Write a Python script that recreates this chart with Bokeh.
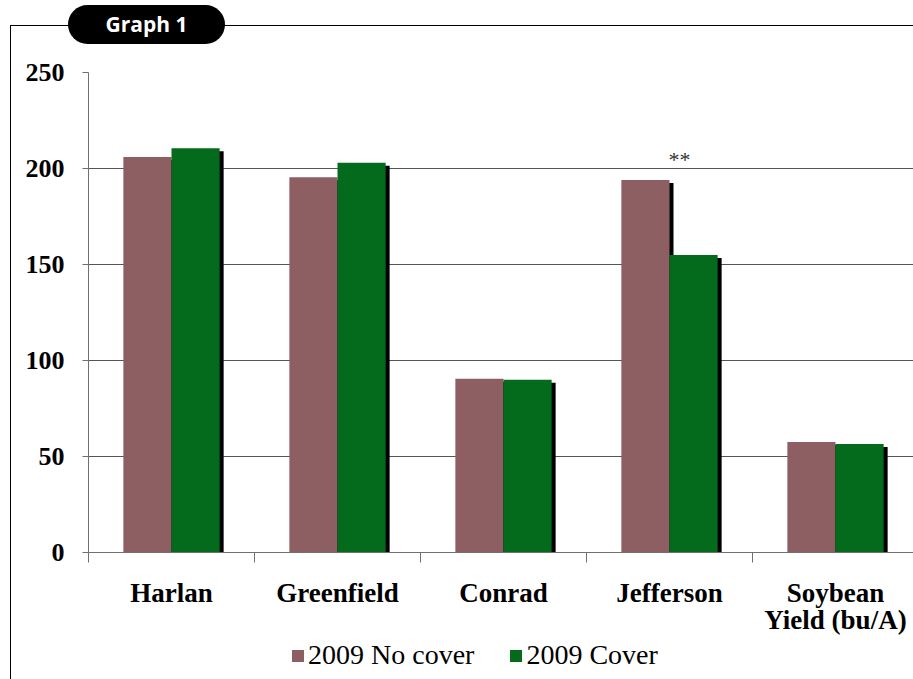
from bokeh.plotting import figure
from bokeh.layouts import column
from bokeh.models import Range1d, FixedTicker, Legend, LegendItem, Div
from bokeh.embed import file_html
from bokeh.resources import INLINE

categories = ["Harlan", "Greenfield", "Conrad", "Jefferson", "Soybean\nYield (bu/A)"]
no_cover = [206, 195.5, 90.5, 194, 57.5]
cover = [210.5, 203, 90, 155, 56.5]
y_ticks = [0, 50, 100, 150, 200, 250]
series_names = ["2009 No cover", "2009 Cover"]
signif_index = 3
signif_mark = "**"
graph_title = "Graph 1"

PINK = "#8D5E62"
GREEN = "#046B1C"
SERIF = "Liberation Serif"

W, H = 913, 679
HEAD_H = 44
LEG_H = 41
H1 = H - HEAD_H - LEG_H
left = 88
top = 72 - HEAD_H
bottom = H1 - top - 480
cat_px = 166.0
n = len(categories)
x_end = (W - left) / cat_px

# title pill (real HTML text)
head = Div(
    text=('<div style="display:block; margin:5px 0 0 68px; '
          'width:157px; height:39px; line-height:39px; border-radius:20px; '
          'background:black; color:white; font-family:\'Open Sans\', sans-serif; '
          'font-weight:bold; font-size:21px; text-align:center;">'
          + graph_title + '</div>'),
    width=W, height=HEAD_H, margin=0)

p = figure(width=W, height=H1, output_backend="svg", toolbar_location=None,
           x_range=Range1d(0, x_end), y_range=Range1d(0, 250),
           min_border_left=left, min_border_right=0, min_border_top=top,
           min_border_bottom=bottom)
p.title = None
p.outline_line_color = None
p.background_fill_color = "white"
p.border_fill_alpha = 0

centers = [i + 0.5 for i in range(n)]
off = 0.145
bw = 0.29
xs_nc = [c - off for c in centers]
xs_c = [c + off for c in centers]
dx = 4 / cat_px
dy = 3 * 250 / 480

# shadows
p.vbar(x=[x + dx for x in xs_nc], top=[v - dy for v in no_cover], bottom=-dy, width=bw,
       fill_color="black", line_color=None)
p.vbar(x=[x + dx for x in xs_c], top=[v - dy for v in cover], bottom=-dy, width=bw,
       fill_color="black", line_color=None)
p.vbar(x=xs_nc, top=no_cover, width=bw, fill_color=PINK, line_color=None)
p.vbar(x=xs_c, top=cover, width=bw, fill_color=GREEN, line_color=None)

p.text(x=[centers[signif_index] + 0.06], y=[max(no_cover[signif_index], cover[signif_index]) + 4],
       text=[signif_mark], text_align="center", text_baseline="bottom",
       text_font={"value": SERIF}, text_font_size="22px", text_color="#333333")

# axes
xa = p.xaxis[0]
xa.ticker = FixedTicker(ticks=centers, minor_ticks=[float(i) for i in range(n + 1)])
xa.major_label_overrides = {c: lab for c, lab in zip(centers, categories)}
xa.major_tick_line_color = None
xa.minor_tick_out = 10
xa.minor_tick_in = 0
xa.minor_tick_line_color = "#707070"
xa.axis_line_color = "#707070"
xa.major_label_text_font = SERIF
xa.major_label_text_font_style = "bold"
xa.major_label_text_font_size = "27px"
xa.major_label_text_line_height = 0.9
xa.major_label_text_color = "black"
xa.major_label_standoff = 15

ya = p.yaxis[0]
ya.ticker = FixedTicker(ticks=y_ticks)
ya.minor_tick_line_color = None
ya.major_tick_out = 6
ya.major_tick_in = 0
ya.major_tick_line_color = "#707070"
ya.axis_line_color = "#707070"
ya.major_label_text_font = SERIF
ya.major_label_text_font_style = "bold"
ya.major_label_text_font_size = "26px"
ya.major_label_text_color = "black"
ya.major_label_standoff = 18

p.xgrid.grid_line_color = None
p.ygrid.grid_line_color = "#555555"
p.ygrid.grid_line_width = 1
p.ygrid.ticker = FixedTicker(ticks=y_ticks)

# legend strip (its frame is aligned with the main frame by the column layout)
q = figure(width=W, height=LEG_H, output_backend="svg", toolbar_location=None,
           x_range=Range1d(0, 1), y_range=Range1d(0, 1),
           x_axis_location=None, y_axis_location=None,
           min_border=0, min_border_left=0, min_border_right=0,
           min_border_top=0, min_border_bottom=0)
q.title = None
q.outline_line_color = None
q.background_fill_alpha = 0
q.border_fill_alpha = 0
q.xgrid.grid_line_color = None
q.ygrid.grid_line_color = None
# hidden renderers that only feed the legend swatches
l1 = q.vbar(x=xs_nc, top=no_cover, width=bw, fill_color=PINK, line_color=None, visible=False)
l2 = q.vbar(x=xs_c, top=cover, width=bw, fill_color=GREEN, line_color=None, visible=False)
legend = Legend(items=[LegendItem(label=series_names[0], renderers=[l1]),
                       LegendItem(label=series_names[1], renderers=[l2])],
                orientation="horizontal", location=(202, 8),
                border_line_color=None, background_fill_alpha=0,
                label_text_font=SERIF, label_text_font_size="28px",
                label_text_color="black",
                glyph_width=15, glyph_height=15, spacing=34, padding=0, margin=0,
                label_standoff=3)
q.add_layout(legend, "center")

layout = column(head, p, q, spacing=0)
layout.styles = {
    "background-color": "white",
    "background-image": "linear-gradient(black, black), linear-gradient(black, black)",
    "background-size": "1px 660px, 910px 1px",
    "background-position": "10px 25px, 10px 25px",
    "background-repeat": "no-repeat",
}

open("out.html", "w").write(file_html(layout, INLINE))
